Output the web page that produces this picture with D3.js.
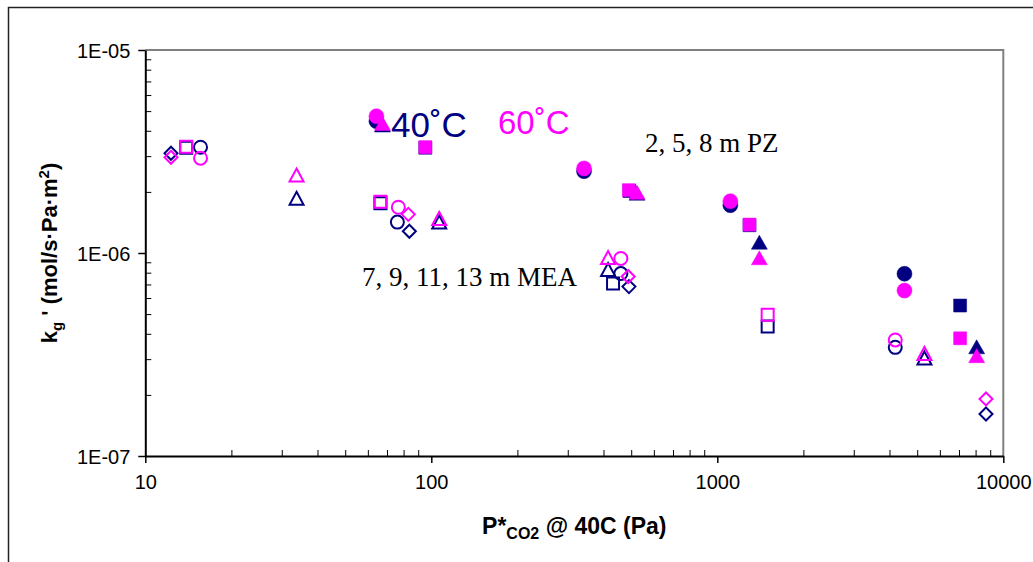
<!DOCTYPE html>
<html>
<head>
<meta charset="utf-8">
<script src="https://cdn.jsdelivr.net/npm/d3@7"></script>
<style>
  body { margin: 0; background: #fff; }
  text { font-family: "Liberation Sans", Arial, sans-serif; }
</style>
</head>
<body>
<div id="chart"></div>
<script>
// [P*CO2 (Pa), kg' (mol/s.Pa.m2)]
// MEA, open markers
const mea7_40  = [[12.3, 3.10e-6], [83.8, 1.28e-6], [491, 6.83e-7], [8700, 1.61e-7]]
const mea7_60  = [[12.3, 2.96e-6], [83.1, 1.55e-6], [488, 7.66e-7], [8700, 1.91e-7]]
const mea9_40  = [[13.9, 3.30e-6], [66.4, 1.76e-6], [432, 7.07e-7], [1500, 4.34e-7]]
const mea9_60  = [[13.9, 3.34e-6], [66.4, 1.79e-6], [1500, 4.97e-7]]
const mea11_40 = [[15.6, 3.32e-6], [76.1, 1.42e-6], [460, 7.92e-7], [4190, 3.43e-7]]
const mea11_60 = [[15.6, 2.93e-6], [76.7, 1.68e-6], [460, 9.40e-7], [4190, 3.73e-7]]
const mea13_40 = [[33.8, 1.86e-6], [106.6, 1.42e-6], [415, 8.29e-7], [5300, 3.04e-7]]
const mea13_60 = [[33.8, 2.42e-6], [106.6, 1.48e-6], [415, 9.50e-7], [5300, 3.20e-7]]
// PZ, filled markers
const pz2_40 = [[64.3, 4.46e-6], [342, 2.53e-6], [1111, 1.72e-6], [4513, 7.90e-7]]
const pz2_60 = [[64.3, 4.72e-6], [342, 2.61e-6], [1111, 1.80e-6], [4513, 6.53e-7]]
const pz5_40 = [[95.3, 3.30e-6], [493, 2.02e-6], [1296, 1.37e-6], [7063, 5.51e-7]]
const pz5_60 = [[95.3, 3.32e-6], [491, 2.04e-6], [1296, 1.38e-6], [7063, 3.80e-7]]
const pz8_40 = [[67.5, 4.27e-6], [524, 1.97e-6], [1403, 1.13e-6], [8070, 3.45e-7]]
const pz8_60 = [[67.5, 4.35e-6], [524, 1.99e-6], [1403, 9.47e-7], [8070, 3.12e-7]]

const xTickValues = [10, 100, 1000, 10000]
const xTickLabels = ["10", "100", "1000", "10000"]
const yTickValues = [1e-7, 1e-6, 1e-5]
const yTickLabels = ["1E-07", "1E-06", "1E-05"]

const navy = "#000080"
const pink = "#ff00ff"

const series = [
  { data: mea7_40, shape: "diamond", color: navy, filled: false },
  { data: mea9_40, shape: "square", color: navy, filled: false },
  { data: mea11_40, shape: "circle", color: navy, filled: false },
  { data: mea13_40, shape: "triangle", color: navy, filled: false },
  { data: pz2_40, shape: "circle", color: navy, filled: true },
  { data: pz5_40, shape: "square", color: navy, filled: true },
  { data: pz8_40, shape: "triangle", color: navy, filled: true },
  { data: mea7_60, shape: "diamond", color: pink, filled: false },
  { data: mea9_60, shape: "square", color: pink, filled: false },
  { data: mea11_60, shape: "circle", color: pink, filled: false },
  { data: mea13_60, shape: "triangle", color: pink, filled: false },
  { data: pz2_60, shape: "circle", color: pink, filled: true },
  { data: pz5_60, shape: "square", color: pink, filled: true },
  { data: pz8_60, shape: "triangle", color: pink, filled: true },
]

const width = 1033
const height = 562
const margin = { top: 50, right: 29.7, bottom: 106, left: 145.3 }

const svg = d3.select("#chart")
  .append("svg")
    .attr("width", width)
    .attr("height", height)

// outer chart border
svg.append("rect")
  .attr("x", 8.5).attr("y", 7.5)
  .attr("width", 1100).attr("height", 700)
  .attr("fill", "none")
  .attr("stroke", "#222")
  .attr("stroke-width", 1.5)

const x = d3.scaleLog()
  .domain([10, 10000])
  .range([margin.left, width - margin.right])

const y = d3.scaleLog()
  .domain([1e-7, 1e-5])
  .range([height - margin.bottom, margin.top])

// plot frame (top + right in grey)
svg.append("path")
  .attr("d", `M${x(10)},${y(1e-5)}H${x(10000)}V${y(1e-7)}`)
  .attr("fill", "none")
  .attr("stroke", "#808080")
  .attr("stroke-width", 2)

const minorX = [], minorY = []
;[10, 100, 1000].forEach(d => { for (let k = 2; k <= 9; k++) minorX.push(d * k) })
;[1e-7, 1e-6].forEach(d => { for (let k = 2; k <= 9; k++) minorY.push(d * k) })

// minor ticks point inward
svg.append("g")
  .attr("transform", `translate(0,${y(1e-7)})`)
  .call(d3.axisBottom(x).tickValues(minorX).tickSize(-6).tickFormat(""))
  .call(g => g.select(".domain").remove())
svg.append("g")
  .attr("transform", `translate(${x(10)},0)`)
  .call(d3.axisLeft(y).tickValues(minorY).tickSize(-6).tickFormat(""))
  .call(g => g.select(".domain").remove())

const xAxis = svg.append("g")
  .attr("transform", `translate(0,${y(1e-7)})`)
  .call(d3.axisBottom(x)
    .tickValues(xTickValues)
    .tickFormat((d, i) => xTickLabels[i])
    .tickSizeInner(7).tickSizeOuter(0).tickPadding(12))
const yAxis = svg.append("g")
  .attr("transform", `translate(${x(10)},0)`)
  .call(d3.axisLeft(y)
    .tickValues(yTickValues)
    .tickFormat((d, i) => yTickLabels[i])
    .tickSizeInner(7).tickSizeOuter(0).tickPadding(8))

;[xAxis, yAxis].forEach(g => {
  g.selectAll("line").attr("stroke", "#000").attr("stroke-width", 1.5)
  g.select(".domain").attr("stroke", "#000").attr("stroke-width", 2)
  g.selectAll("text")
    .attr("font-family", "'Liberation Sans', Arial, sans-serif")
    .attr("font-size", 20)
    .attr("fill", "#000")
})
yAxis.selectAll("text").attr("dy", "0.36em")

function shapePath(shape, filled) {
  if (shape === "circle") {
    const r = filled ? 7.5 : 6.5
    return `M${-r},0A${r},${r} 0 1,0 ${r},0A${r},${r} 0 1,0 ${-r},0Z`
  }
  if (shape === "square") {
    const s = filled ? 6.5 : 6
    return `M${-s},${-s}H${s}V${s}H${-s}Z`
  }
  if (shape === "triangle") {
    const w = filled ? 8 : 7, h = filled ? 7 : 6.5
    return `M0,${-h}L${w},${h}H${-w}Z`
  }
  // diamond
  const d = 6.5
  return `M0,${-d}L${d},0L0,${d}L${-d},0Z`
}

series.forEach(s => {
  svg.append("g")
    .selectAll("path")
    .data(s.data)
    .join("path")
      .attr("transform", d => `translate(${x(d[0])},${y(d[1])})`)
      .attr("d", shapePath(s.shape, s.filled))
      .attr("fill", s.filled ? s.color : "none")
      .attr("stroke", s.color)
      .attr("stroke-width", s.filled ? 0.5 : 2)
})

// annotations
svg.append("text")
  .attr("x", 391).attr("y", 137)
  .attr("font-size", 35)
  .attr("fill", navy)
  .text("40˚C")
svg.append("text")
  .attr("x", 498).attr("y", 134)
  .attr("font-size", 33)
  .attr("fill", pink)
  .text("60˚C")
svg.append("text")
  .attr("x", 645).attr("y", 152)
  .style("font-family", "'Liberation Serif', 'Times New Roman', serif")
  .attr("font-size", 27)
  .text("2, 5, 8 m PZ")
svg.append("text")
  .attr("x", 362).attr("y", 286)
  .style("font-family", "'Liberation Serif', 'Times New Roman', serif")
  .attr("font-size", 27)
  .text("7, 9, 11, 13 m MEA")

// axis titles
const xt = svg.append("text")
  .attr("x", (x(10) + x(10000)) / 2).attr("y", 534)
  .attr("text-anchor", "middle")
  .attr("font-size", 23)
  .attr("font-weight", "bold")
xt.append("tspan").text("P*")
xt.append("tspan").attr("font-size", 16).attr("dy", 5).text("CO2")
xt.append("tspan").attr("dy", -5).text(" @ 40C (Pa)")

const yt = svg.append("text")
  .attr("transform", `translate(57,${(y(1e-5) + y(1e-7)) / 2}) rotate(-90)`)
  .attr("text-anchor", "middle")
  .attr("font-size", 22)
  .attr("font-weight", "bold")
yt.append("tspan").text("k")
yt.append("tspan").attr("font-size", 15).attr("dy", 5).text("g")
yt.append("tspan").attr("dy", -5).text(" ' (mol/s·Pa·m")
yt.append("tspan").attr("font-size", 15).attr("dy", -8).text("2")
yt.append("tspan").attr("dy", 8).text(")")
</script>
</body>
</html>
